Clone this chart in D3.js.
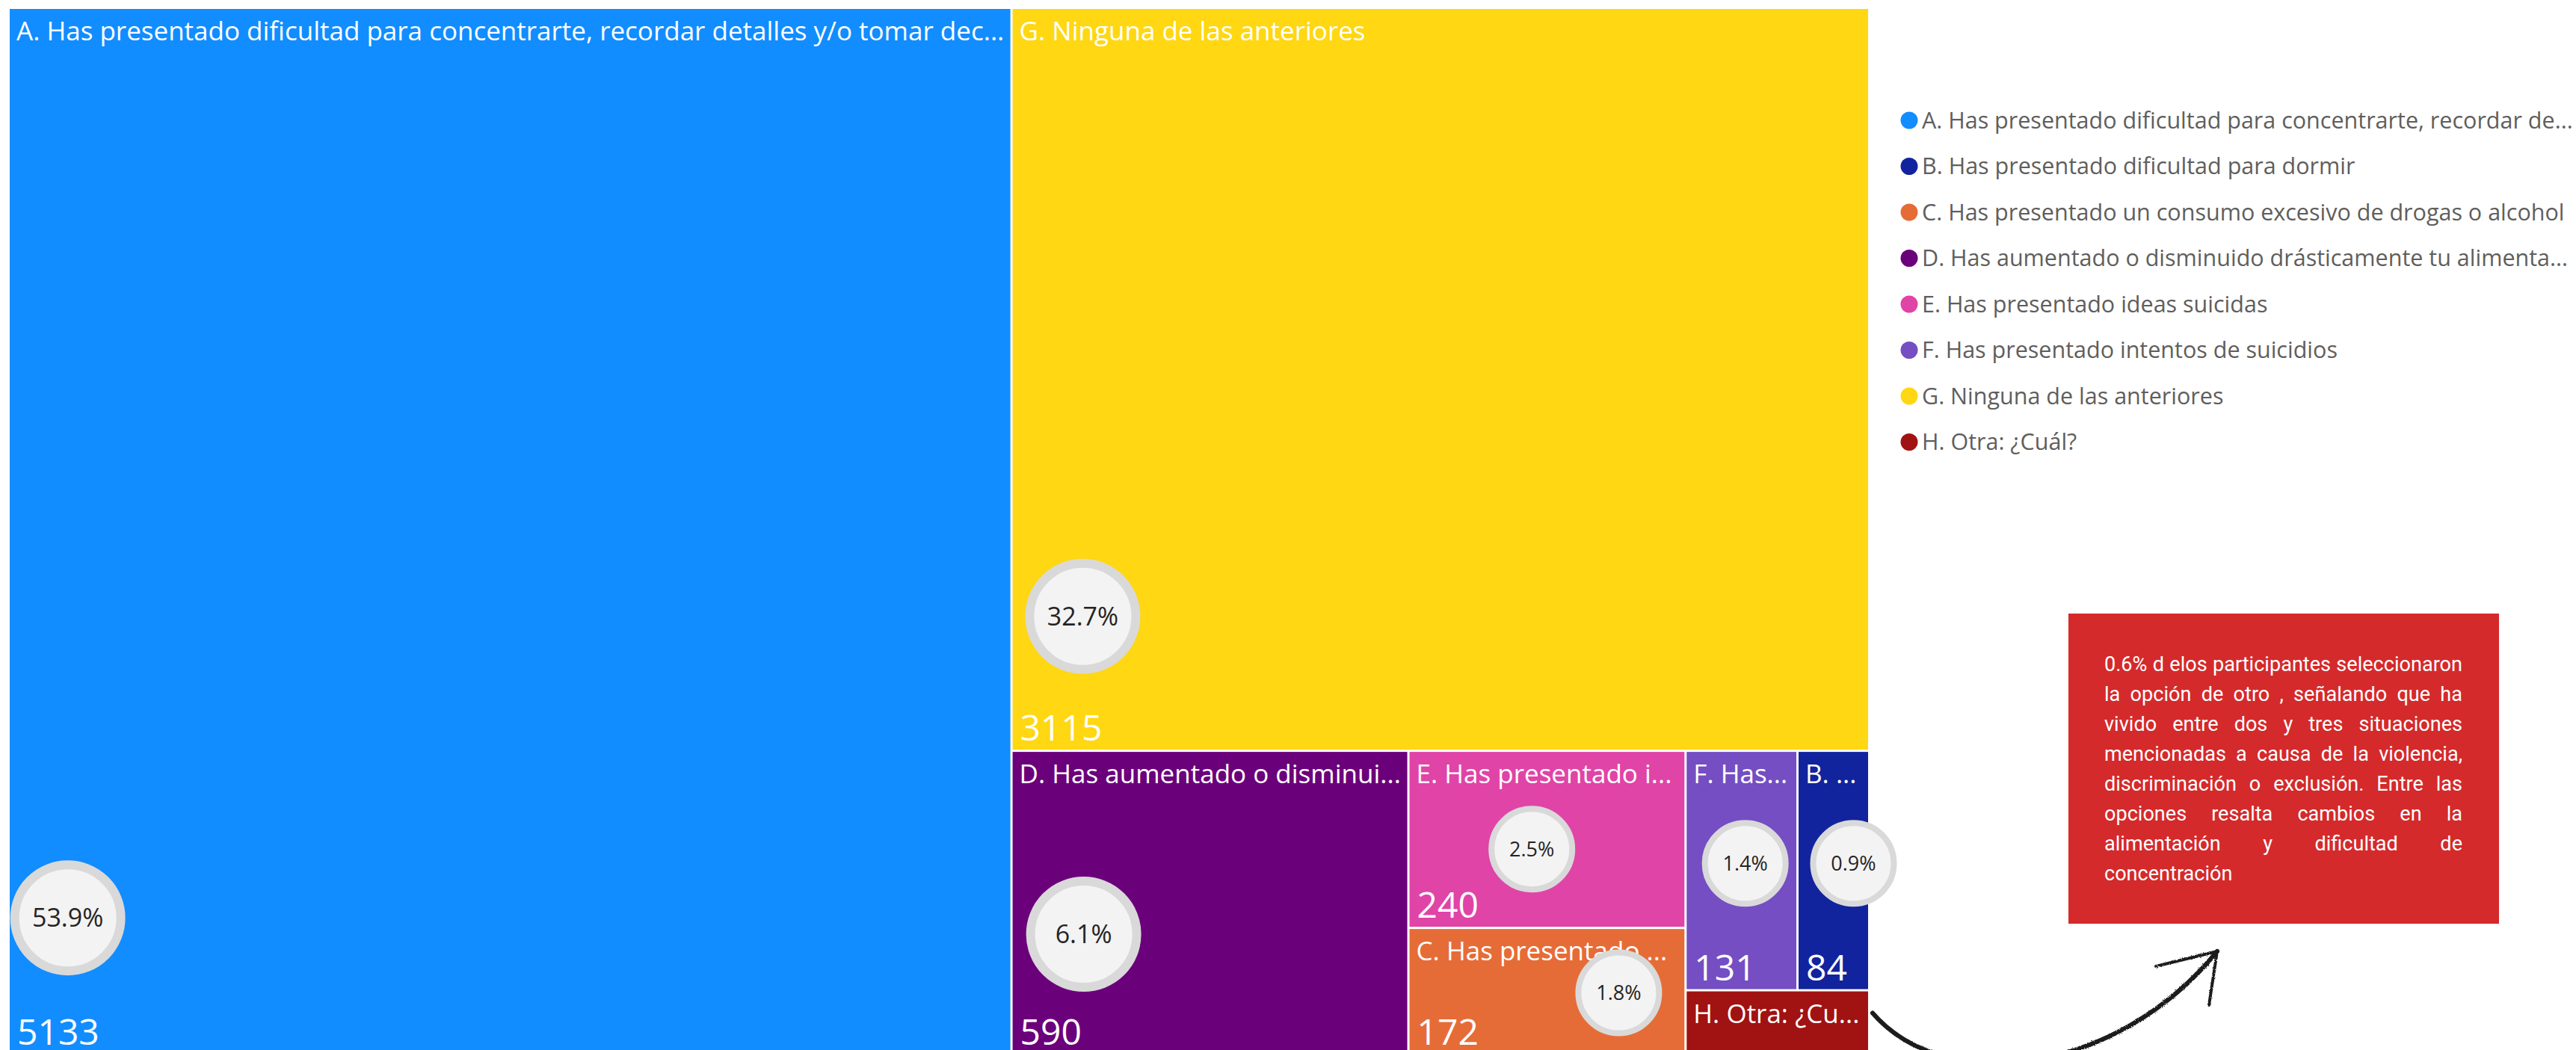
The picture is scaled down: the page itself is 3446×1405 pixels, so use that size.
<!DOCTYPE html>
<html>
<head>
<meta charset="utf-8">
<script src="https://cdn.jsdelivr.net/npm/d3@7"></script>
<style>
  html, body { margin: 0; padding: 0; background: #fff; overflow: hidden; }
</style>
</head>
<body>
<div id="treemap"></div>
<script>
// data
const categories = [
    "A. Has presentado dificultad para concentrarte, recordar detalles y/o tomar decisiones",
    "B. Has presentado dificultad para dormir",
    "C. Has presentado un consumo excesivo de drogas o alcohol",
    "D. Has aumentado o disminuido drásticamente tu alimentación",
    "E. Has presentado ideas suicidas",
    "F. Has presentado intentos de suicidios",
    "G. Ninguna de las anteriores",
    "H. Otra: ¿Cuál?"
];
const counts = [5133, 84, 172, 590, 240, 131, 3115, 58];
const percentLabels = ["53.9%", "0.9%", "1.8%", "6.1%", "2.5%", "1.4%", "32.7%", null];
const colors = ["#118DFF", "#12239E", "#E66C37", "#6B007B", "#E044A7", "#744EC2", "#FFD712", "#A11212"];
const noteLines = [
    "0.6% d elos participantes seleccionaron",
    "la opción de otro , señalando que ha",
    "vivido entre dos y tres situaciones",
    "mencionadas a causa de la violencia,",
    "discriminación o exclusión. Entre las",
    "opciones resalta cambios en la",
    "alimentación y dificultad de",
    "concentración"
];

// where the % badges sit inside each tile (fraction of tile width / height)
const badgeSpot = {
    A: { fx: 0.058, fy: 0.870, big: true },
    G: { fx: 0.082, fy: 0.820, big: true },
    D: { fx: 0.180, fy: 0.604, big: true },
    E: { fx: 0.445, fy: 0.556, big: false },
    C: { fx: 0.761, fy: 0.512, big: false },
    F: { fx: 0.534, fy: 0.470, big: false },
    B: { fx: 0.790, fy: 0.470, big: false }
};

const width = 3446, height = 1405;
const box = { x0: 13, y0: 12, x1: 2499, y1: 1410 };
const labelFont = "'Segoe UI', 'Open Sans', sans-serif";

const svg = d3.select('#treemap')
    .append('svg')
    .attr('width', width)
    .attr('height', height);

const defs = svg.append('defs');
const rough = defs.append('filter').attr('id', 'rough');
rough.append('feTurbulence').attr('type', 'fractalNoise').attr('baseFrequency', 0.9).attr('numOctaves', 2).attr('result', 'n');
rough.append('feDisplacementMap').attr('in', 'SourceGraphic').attr('in2', 'n').attr('scale', 3);

// truncate text with "..." so it fits in maxW
function fitText(sel, text, maxW) {
    sel.text(text);
    if (sel.node().getComputedTextLength() <= maxW) return;
    let n = text.length;
    while (n > 0) {
        sel.text(text.slice(0, n) + '...');
        if (sel.node().getComputedTextLength() <= maxW) return;
        n--;
    }
}

const root = d3.hierarchy({
        children: categories.map((c, i) => ({ name: c, value: counts[i], pct: percentLabels[i], color: colors[i] }))
    })
    .sum(d => d.value || 0)
    .sort((a, b) => b.value - a.value);

d3.treemap()
    .tile(d3.treemapSquarify.ratio(1.8))
    .size([box.x1 - box.x0, box.y1 - box.y0])
    .paddingInner(3)(root);

const g = svg.append('g').attr('transform', `translate(${box.x0},${box.y0})`);

const cell = g.selectAll('g.cell')
    .data(root.leaves())
    .join('g')
    .attr('class', 'cell');

cell.append('rect')
    .attr('x', d => d.x0)
    .attr('y', d => d.y0)
    .attr('width', d => d.x1 - d.x0)
    .attr('height', d => d.y1 - d.y0)
    .attr('fill', d => d.data.color);

cell.append('text')
    .attr('x', d => d.x0 + 9)
    .attr('y', d => d.y0 + 42)
    .attr('fill', '#fff')
    .style('font-family', labelFont)
    .style('font-size', '35px')
    .each(function (d) {
        fitText(d3.select(this), d.data.name, d.x1 - d.x0 - 14);
    });

// value labels only where the tile is tall enough for both lines
cell.filter(d => d.y1 - d.y0 > 110)
    .append('text')
    .attr('x', d => d.x0 + 10)
    .attr('y', d => d.y1 - 12)
    .attr('fill', '#fff')
    .style('font-family', labelFont)
    .style('font-size', '48px')
    .text(d => d.data.value);

// percent badges
const badges = g.selectAll('g.badge')
    .data(root.leaves().filter(d => d.data.pct))
    .join('g')
    .attr('class', 'badge')
    .attr('transform', d => {
        const s = badgeSpot[d.data.name[0]];
        return `translate(${d.x0 + s.fx * (d.x1 - d.x0)},${d.y0 + s.fy * (d.y1 - d.y0)})`;
    });

badges.append('circle')
    .attr('r', d => badgeSpot[d.data.name[0]].big ? 71 : 54)
    .attr('fill', '#f3f3f3')
    .attr('stroke', '#d9d9d9')
    .attr('stroke-width', d => badgeSpot[d.data.name[0]].big ? 12 : 8);

badges.append('text')
    .attr('text-anchor', 'middle')
    .attr('dy', '0.35em')
    .attr('fill', '#252423')
    .style('font-family', labelFont)
    .style('font-size', d => badgeSpot[d.data.name[0]].big ? '34px' : '27px')
    .text(d => d.data.pct);

// legend
const legend = svg.append('g').attr('transform', 'translate(2554,161)');
const item = legend.selectAll('g')
    .data(categories)
    .join('g')
    .attr('transform', (d, i) => `translate(0,${i * 61.5})`);

item.append('circle')
    .attr('r', 11.5)
    .attr('fill', (d, i) => colors[i]);

item.append('text')
    .attr('x', 17)
    .attr('dy', '0.35em')
    .attr('fill', '#605e5c')
    .style('font-family', labelFont)
    .style('font-size', '30.5px')
    .each(function (d) {
        fitText(d3.select(this), d, 3443 - 2571);
    });

// note box
const note = { x: 2767, y: 821, w: 576, h: 415 };
svg.append('rect')
    .attr('x', note.x)
    .attr('y', note.y)
    .attr('width', note.w)
    .attr('height', note.h)
    .attr('fill', '#D42A2B');

const textLeft = note.x + 48, textW = 479, lineH = 40;
// pick the font size so the first line just fills the column
const probe = svg.append('text')
    .style('font-family', 'Roboto, sans-serif')
    .style('font-size', '26px')
    .text(noteLines[0]);
const noteSize = 26 * (textW - 2) / probe.node().getComputedTextLength();
probe.remove();

noteLines.forEach((line, li) => {
    const words = line.split(/\s+/);
    const lineG = svg.append('g').attr('transform', `translate(${textLeft},${note.y + 77 + li * lineH})`);
    const nodes = words.map(w => lineG.append('text')
        .attr('fill', '#fff')
        .style('font-family', 'Roboto, sans-serif')
        .style('font-size', noteSize + 'px')
        .text(w));
    const ws = nodes.map(n => n.node().getComputedTextLength());
    const last = li === noteLines.length - 1;
    const space = noteSize * 0.25;
    const gap = (last || words.length < 2) ? space : (textW - d3.sum(ws)) / (words.length - 1);
    let x = 0;
    nodes.forEach((n, k) => { n.attr('x', x); x += ws[k] + gap; });
});

// hand drawn arrow from H tile to the note
const hNode = root.leaves().find(d => d.data.name[0] === 'H');
const s = { x: box.x0 + hNode.x1 + 6, y: box.y0 + hNode.y0 + 29 };
const e = { x: note.x + 199, y: note.y + note.h + 37 };
const arrow = svg.append('g')
    .attr('fill', 'none')
    .attr('stroke', '#1e1e1e')
    .attr('stroke-linecap', 'round')
    .attr('filter', 'url(#rough)');

arrow.append('path')
    .attr('stroke-width', 6)
    .attr('d', `M${s.x},${s.y} C${s.x + 95},${s.y + 110} ${e.x - 136},${e.y + 167} ${e.x},${e.y}`);
arrow.append('path')
    .attr('stroke-width', 4)
    .attr('d', `M${e.x - 82},${e.y + 20} L${e.x},${e.y} L${e.x - 11},${e.y + 72}`);
</script>
</body>
</html>
